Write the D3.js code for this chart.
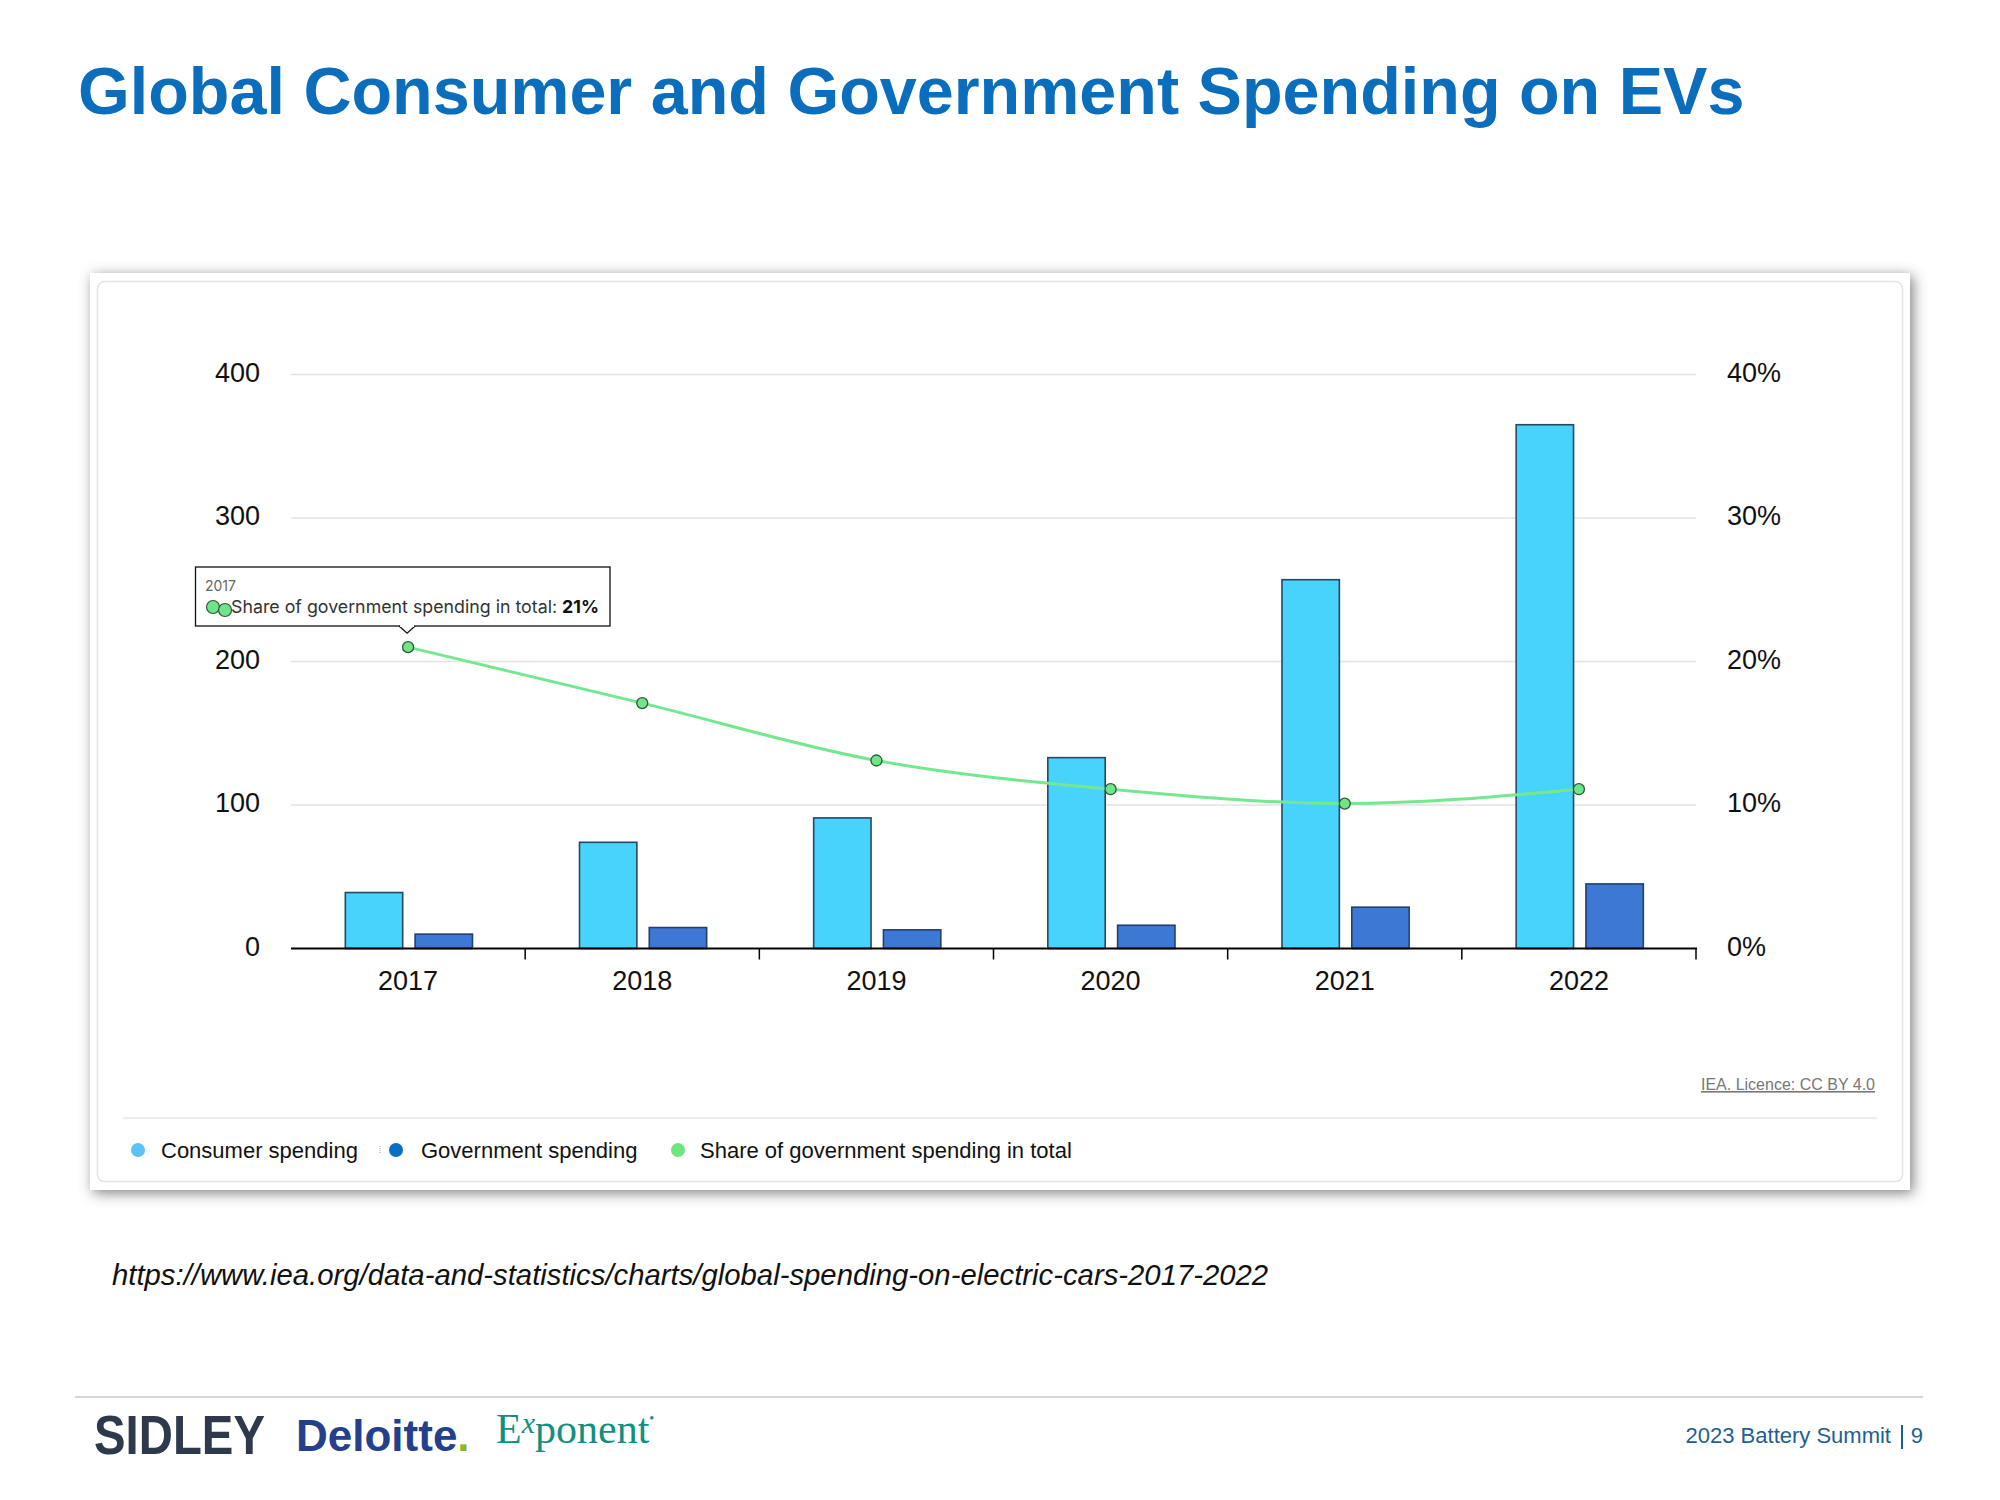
<!DOCTYPE html>
<html>
<head>
<meta charset="utf-8">
<script src="https://cdn.jsdelivr.net/npm/d3@7"></script>
<style>
  html, body { margin: 0; padding: 0; background: #ffffff; }
  svg { display: block; }
</style>
</head>
<body>
<svg id="chart" width="2000" height="1500"></svg>
<script>
// ---------- data ----------
const categories = ["2017", "2018", "2019", "2020", "2021", "2022"];
const consumerSpending = [39, 74, 91, 133, 257, 365];
const governmentSpending = [10, 14.6, 13, 16.2, 28.8, 45];
const governmentShare = [21, 17.1, 13.1, 11.1, 10.1, 11.1];
const leftTicks = [0, 100, 200, 300, 400];
const rightTicks = [0, 10, 20, 30, 40];
const seriesNames = ["Consumer spending", "Government spending", "Share of government spending in total"];
const titleText = "Global Consumer and Government Spending on EVs";
const sourceUrl = "https://www.iea.org/data-and-statistics/charts/global-spending-on-electric-cars-2017-2022";
const creditText = "IEA. Licence: CC BY 4.0";
const tooltipYear = "2017";
const tooltipLabel = "Share of government spending in total: ";
const tooltipValue = "21%";

// ---------- setup ----------
const svg = d3.select("#chart");
const FONT = "Liberation Sans, Arial, Helvetica, sans-serif";

const defs = svg.append("defs");
const f = defs.append("filter").attr("id", "shadow").attr("x", "-5%").attr("y", "-5%").attr("width", "110%").attr("height", "110%");
f.append("feDropShadow").attr("dx", 3).attr("dy", 3).attr("stdDeviation", 7)
  .attr("flood-color", "#555").attr("flood-opacity", 0.75);

// Title
svg.append("text")
  .attr("x", 78).attr("y", 114)
  .attr("font-family", FONT).attr("font-weight", "bold").attr("font-size", 66.5)
  .attr("fill", "#0a6ebd")
  .text(titleText);

// Card
svg.append("rect").attr("x", 90).attr("y", 273).attr("width", 1820).attr("height", 917)
  .attr("fill", "#fff").attr("filter", "url(#shadow)");
svg.append("rect").attr("x", 97.5).attr("y", 281.5).attr("width", 1805).attr("height", 900)
  .attr("rx", 7).attr("fill", "#fff").attr("stroke", "#e4e4e4").attr("stroke-width", 1.5);

// ---------- scales ----------
const plotLeft = 291, plotRight = 1696, plotBottom = 948.5, plotTop = 374.5;
const x = d3.scaleBand().domain(categories).range([plotLeft, plotRight]).padding(0);
const yL = d3.scaleLinear().domain([0, 400]).range([plotBottom, plotTop]);
const yR = d3.scaleLinear().domain([0, 40]).range([plotBottom, plotTop]);
const bw = x.bandwidth();

const g = svg.append("g");

// gridlines
g.append("g").selectAll("line").data(leftTicks.filter(d => d > 0)).join("line")
  .attr("x1", plotLeft).attr("x2", plotRight)
  .attr("y1", d => yL(d)).attr("y2", d => yL(d))
  .attr("stroke", "#e3e3e3").attr("stroke-width", 1.3);

// left axis labels
const la = g.append("g").attr("transform", `translate(${plotLeft},-2)`)
  .call(d3.axisLeft(yL).tickValues(leftTicks).tickSize(0).tickPadding(31));
la.select(".domain").remove();
la.selectAll("text").attr("font-family", FONT).attr("font-size", 27).attr("fill", "#111");

// right axis labels
const ra = g.append("g").attr("transform", `translate(${plotRight},-2)`)
  .call(d3.axisRight(yR).tickValues(rightTicks).tickFormat(d => d + "%").tickSize(0).tickPadding(31));
ra.select(".domain").remove();
ra.selectAll("text").attr("font-family", FONT).attr("font-size", 27).attr("fill", "#111");

// bars
const barW = bw * 0.245;
g.append("g").selectAll("rect").data(categories).join("rect")
  .attr("x", (d, i) => x(d) + bw * 0.232)
  .attr("y", (d, i) => yL(consumerSpending[i]))
  .attr("width", barW)
  .attr("height", (d, i) => plotBottom - yL(consumerSpending[i]))
  .attr("fill", "#48d3fd").attr("stroke", "#274861").attr("stroke-width", 1.6);

g.append("g").selectAll("rect").data(categories).join("rect")
  .attr("x", (d, i) => x(d) + bw * 0.53)
  .attr("y", (d, i) => yL(governmentSpending[i]))
  .attr("width", barW)
  .attr("height", (d, i) => plotBottom - yL(governmentSpending[i]))
  .attr("fill", "#3d78d4").attr("stroke", "#23406a").attr("stroke-width", 1.6);

// bottom axis
const ba = g.append("g").attr("transform", `translate(0,${plotBottom})`)
  .call(d3.axisBottom(x).tickSize(0).tickPadding(22));
ba.select(".domain").remove();
ba.selectAll("text").attr("font-family", FONT).attr("font-size", 27).attr("fill", "#111");
g.append("line").attr("x1", plotLeft).attr("x2", plotRight + 1)
  .attr("y1", plotBottom).attr("y2", plotBottom).attr("stroke", "#000").attr("stroke-width", 2.2);
const boundaries = categories.slice(1).map(c => x(c)).concat([plotRight]);
g.append("g").selectAll("line").data(boundaries).join("line")
  .attr("x1", d => d).attr("x2", d => d)
  .attr("y1", plotBottom).attr("y2", plotBottom + 11)
  .attr("stroke", "#000").attr("stroke-width", 1.5);

// share line
const line = d3.line()
  .x((d, i) => x(categories[i]) + bw / 2)
  .y(d => yR(d))
  .curve(d3.curveMonotoneX);
g.append("path").datum(governmentShare)
  .attr("d", line).attr("fill", "none")
  .attr("stroke", "#74e88f").attr("stroke-width", 3);
g.append("g").selectAll("circle").data(governmentShare).join("circle")
  .attr("cx", (d, i) => x(categories[i]) + bw / 2)
  .attr("cy", d => yR(d))
  .attr("r", 5.5)
  .attr("fill", "#6fe48a").attr("stroke", "#2b5a37").attr("stroke-width", 1.3);

// tooltip
const tipX = x(categories[0]) + bw / 2;
const tipTipY = yR(governmentShare[0]) - 14;
const tb = { x: 195.5, y: 567, w: 414.5, h: 59 };
const tt = svg.append("g");
tt.append("rect").attr("x", tb.x).attr("y", tb.y).attr("width", tb.w).attr("height", tb.h)
  .attr("fill", "#fff").attr("stroke", "#111").attr("stroke-width", 1.3);
tt.append("path")
  .attr("d", `M${tipX - 9},${tb.y + tb.h} L${tipX - 1},${tipTipY} L${tipX + 7},${tb.y + tb.h}`)
  .attr("fill", "#fff").attr("stroke", "#111").attr("stroke-width", 1.3);
tt.append("line").attr("x1", tipX - 8).attr("x2", tipX + 6)
  .attr("y1", tb.y + tb.h).attr("y2", tb.y + tb.h).attr("stroke", "#fff").attr("stroke-width", 2);
tt.append("text").attr("x", 205).attr("y", 591)
  .attr("font-family", "Inter, Open Sans, sans-serif").attr("font-size", 14).attr("fill", "#666")
  .text(tooltipYear);
tt.append("circle").attr("cx", 213).attr("cy", 607).attr("r", 6.5)
  .attr("fill", "#6fe48a").attr("stroke", "#2b5a37").attr("stroke-width", 1.2);
tt.append("circle").attr("cx", 225).attr("cy", 610).attr("r", 6.5)
  .attr("fill", "#6fe48a").attr("stroke", "#2b5a37").attr("stroke-width", 1.2);
const ttText = tt.append("text").attr("x", 231).attr("y", 613)
  .attr("font-family", "Inter, Open Sans, sans-serif").attr("font-size", 17.8).attr("fill", "#333");
ttText.append("tspan").text(tooltipLabel);
ttText.append("tspan").attr("font-weight", "bold").attr("fill", "#111").text(tooltipValue);

// credit
svg.append("text").attr("x", 1875).attr("y", 1090).attr("text-anchor", "end")
  .attr("font-family", FONT).attr("font-size", 16).attr("fill", "#777")
  .attr("text-decoration", "underline")
  .text(creditText);

// separator
svg.append("line").attr("x1", 123).attr("x2", 1877).attr("y1", 1118).attr("y2", 1118)
  .attr("stroke", "#e6e6e6").attr("stroke-width", 1.5);

// legend
const legendColors = ["#5bc2f8", "#0a6fc4", "#6ee57d"];
const legendX = [138, 396, 678];
const legendTextX = [161, 421, 700];
const lg = svg.append("g");
seriesNames.forEach((name, i) => {
  lg.append("circle").attr("cx", legendX[i]).attr("cy", 1150).attr("r", 7).attr("fill", legendColors[i]);
  lg.append("text").attr("x", legendTextX[i]).attr("y", 1158)
    .attr("font-family", FONT).attr("font-size", 22).attr("fill", "#111").text(name);
});
lg.append("line").attr("x1", 380).attr("x2", 380).attr("y1", 1146).attr("y2", 1154)
  .attr("stroke", "#999").attr("stroke-width", 1).attr("stroke-dasharray", "1,1");

// source url
svg.append("text").attr("x", 112).attr("y", 1285)
  .attr("font-family", FONT).attr("font-style", "italic").attr("font-size", 29.3).attr("fill", "#111")
  .text(sourceUrl);

// footer
svg.append("line").attr("x1", 75).attr("x2", 1923).attr("y1", 1397).attr("y2", 1397)
  .attr("stroke", "#d3d7da").attr("stroke-width", 2);
svg.append("text").attr("x", 94).attr("y", 1454)
  .attr("font-family", FONT).attr("font-weight", "bold").attr("font-size", 55)
  .attr("textLength", 171).attr("lengthAdjust", "spacingAndGlyphs")
  .attr("fill", "#2e3a4b").text("SIDLEY");
const dl = svg.append("text").attr("x", 296).attr("y", 1451)
  .attr("font-family", FONT).attr("font-weight", "bold").attr("font-size", 44)
  .attr("fill", "#243f8c");
dl.append("tspan").text("Deloitte");
dl.append("tspan").attr("fill", "#86bc25").text(".");
const ex = svg.append("text").attr("x", 496).attr("y", 1443)
  .attr("font-family", "Liberation Serif, DejaVu Serif, serif").attr("font-size", 42)
  .attr("fill", "#12907f");
ex.append("tspan").text("E");
ex.append("tspan").attr("font-size", 30).attr("font-style", "italic").attr("dy", -10).text("x");
ex.append("tspan").attr("dy", 10).text("ponent");
ex.append("tspan").attr("font-size", 14).attr("dy", -20).text("•");
svg.append("text").attr("x", 1891).attr("y", 1443).attr("text-anchor", "end")
  .attr("font-family", FONT).attr("font-size", 22).attr("fill", "#1f5f93")
  .text("2023 Battery Summit");
svg.append("line").attr("x1", 1902).attr("x2", 1902).attr("y1", 1425).attr("y2", 1449)
  .attr("stroke", "#1f5f93").attr("stroke-width", 2);
svg.append("text").attr("x", 1923).attr("y", 1443).attr("text-anchor", "end")
  .attr("font-family", FONT).attr("font-size", 22).attr("fill", "#1f5f93")
  .text("9");
</script>
</body>
</html>
